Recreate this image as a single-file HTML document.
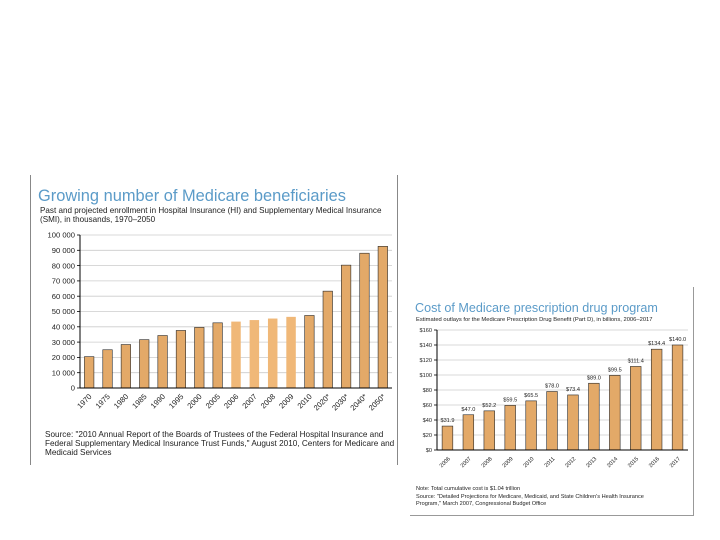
<!DOCTYPE html>
<html><head><meta charset="utf-8"><style>
body{margin:0;background:#fff;font-family:"Liberation Sans",sans-serif;}
svg{display:block}
</style></head><body>
<svg id="s" width="720" height="540" font-family="Liberation Sans, sans-serif">
<g>
<line x1="30.5" y1="175" x2="30.5" y2="465" stroke="#888"/>
<line x1="397.5" y1="175" x2="397.5" y2="465" stroke="#888"/>
<text x="38" y="201" font-size="16.4" fill="#5b9bc8">Growing number of Medicare beneficiaries</text>
<text x="40" y="213" font-size="8.1" fill="#222">Past and projected enrollment in Hospital Insurance (HI) and Supplementary Medical Insurance</text>
<text x="40" y="222" font-size="8.1" fill="#222">(SMI), in thousands, 1970–2050</text>
<g id="lc"></g>
<text x="45" y="437" font-size="8.2" fill="#222">Source: "2010 Annual Report of the Boards of Trustees of the Federal Hospital Insurance and</text>
<text x="45" y="446" font-size="8.2" fill="#222">Federal Supplementary Medical Insurance Trust Funds," August 2010, Centers for Medicare and</text>
<text x="45" y="455" font-size="8.2" fill="#222">Medicaid Services</text>
</g>
<g>
<line x1="693.5" y1="287" x2="693.5" y2="516" stroke="#999"/>
<line x1="410" y1="515.5" x2="694" y2="515.5" stroke="#999"/>
<text x="415" y="312" font-size="12.6" fill="#5b9bc8">Cost of Medicare prescription drug program</text>
<text x="416" y="321" font-size="5.8" fill="#222">Estimated outlays for the Medicare Prescription Drug Benefit (Part D), in billions, 2006–2017</text>
<g id="rc"></g>
<text x="416" y="490" font-size="5.6" fill="#222">Note: Total cumulative cost is $1.04 trillion</text>
<text x="416" y="498" font-size="5.6" fill="#222">Source: "Detailed Projections for Medicare, Medicaid, and State Children's Health Insurance</text>
<text x="416" y="505" font-size="5.6" fill="#222">Program," March 2007, Congressional Budget Office</text>
</g>
</svg>
<script>
const leftCats=["1970","1975","1980","1985","1990","1995","2000","2005","2006","2007","2008","2009","2010","2020*","2030*","2040*","2050*"];
const leftVals=[20500,25000,28400,31600,34300,37600,39600,42600,43400,44400,45400,46500,47400,63300,80300,88100,92600];
const leftTicks=[0,10000,20000,30000,40000,50000,60000,70000,80000,90000,100000];
const leftTickLabels=["0","10 000","20 000","30 000","40 000","50 000","60 000","70 000","80 000","90 000","100 000"];
const rightCats=["2006","2007","2008","2009","2010","2011","2012","2013","2014","2015","2016","2017"];
const rightVals=[31.9,47.0,52.2,59.5,65.5,78.0,73.4,89.0,99.5,111.4,134.4,140.0];
const rightValLabels=["$31.9","$47.0","$52.2","$59.5","$65.5","$78.0","$73.4","$89.0","$99.5","$111.4","$134.4","$140.0"];
const rightTicks=[0,20,40,60,80,100,120,140,160];
const rightTickLabels=["$0","$20","$40","$60","$80","$100","$120","$140","$160"];
const NS="http://www.w3.org/2000/svg";
function mk(p,t,a){const e=document.createElementNS(NS,t);for(const k in a)e.setAttribute(k,a[k]);p.appendChild(e);return e;}
function chart(g,o){
  const y=v=>o.y0-(v-o.min)/(o.max-o.min)*(o.y0-o.y1);
  const slot=(o.x1-o.x0)/o.cats.length;
  const x=i=>o.x0+slot*(i+0.5);
  o.ticks.forEach((t,i)=>{
    if(t>0){const l=mk(g,"line",{x1:o.x0,x2:o.x1,y1:y(t),y2:y(t),stroke:"#ccc","stroke-width":0.8});
    
    }
    const tx=mk(g,"text",{x:o.x0-5,y:y(t)+o.fs*0.35,"font-size":o.fs,"text-anchor":"end",fill:"#222"});
    tx.textContent=o.tickLabels[i];
    
    
    const tk=mk(g,"line",{x1:o.x0-3,x2:o.x0,y1:y(t),y2:y(t),stroke:"#000","stroke-width":0.8});
    
    
  });
  o.vals.forEach((v,i)=>{
    const light=o.light&&o.light.includes(i);
    const r=mk(g,"rect",{x:x(i)-o.bw/2,y:y(v),width:o.bw,height:o.y0-y(v),fill:light?"#f0b878":"#e3a968",stroke:light?"none":"#2a2a2a","stroke-width":0.6});
    
    
    const lb=mk(g,"text",{transform:`translate(${x(i)+3},${o.y0+9}) rotate(-45)`,"font-size":o.fs,"text-anchor":"end",fill:"#222"});
    lb.textContent=o.cats[i];
    
    
    if(o.valLabels){const vl=mk(g,"text",{x:x(i),y:y(v)-4,"font-size":o.fs,"text-anchor":"middle",fill:"#222"});
    vl.textContent=o.valLabels[i];
    
    }
  });
  const ax=mk(g,"line",{x1:o.x0,x2:o.x0,y1:o.y1,y2:o.y0,stroke:"#000","stroke-width":1});
  
  
  const bx=mk(g,"line",{x1:o.x0,x2:o.x1,y1:o.y0,y2:o.y0,stroke:"#000","stroke-width":1});
  
  
}
chart(document.getElementById("lc"),{x0:80,x1:392,y0:388,y1:235,min:0,max:100000,cats:leftCats,vals:leftVals,ticks:leftTicks,tickLabels:leftTickLabels,bw:9.5,fs:7.6,light:[8,9,10,11]});
chart(document.getElementById("rc"),{x0:437,x1:688,y0:450,y1:330,min:0,max:160,cats:rightCats,vals:rightVals,ticks:rightTicks,tickLabels:rightTickLabels,valLabels:rightValLabels,bw:10.7,fs:5.6});
</script>
</body></html>
